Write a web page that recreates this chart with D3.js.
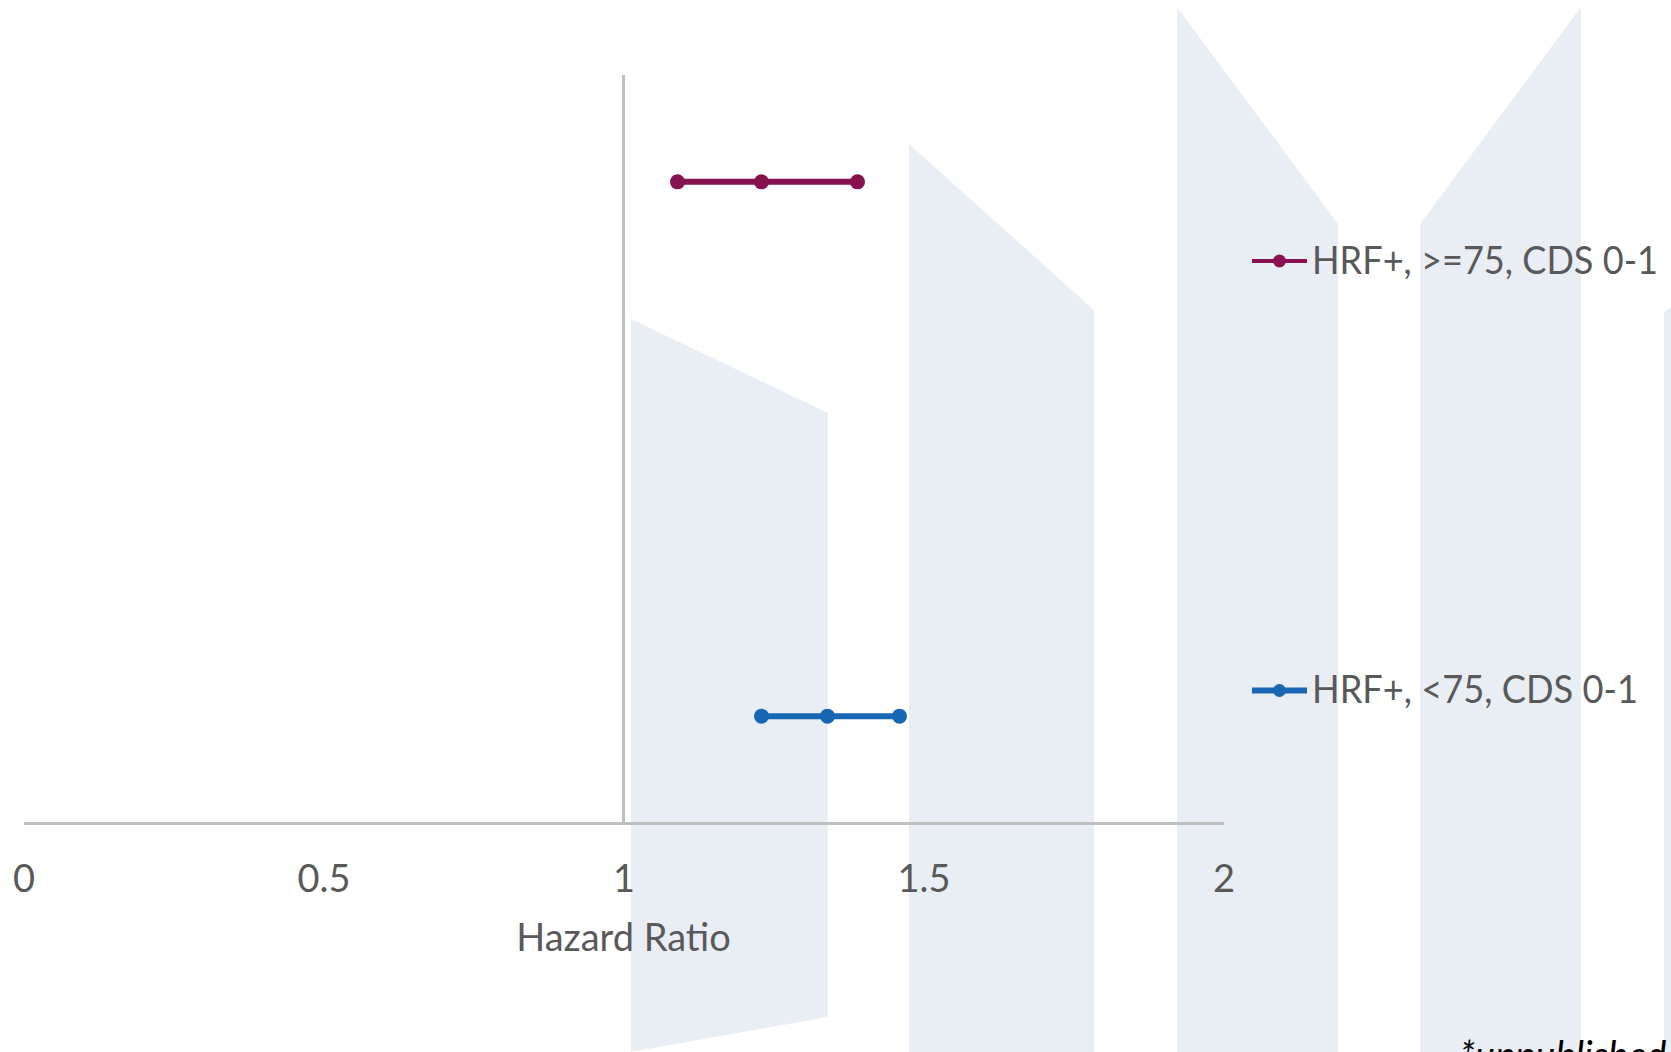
<!DOCTYPE html>
<html>
<head>
<meta charset="utf-8">
<script src="https://cdn.jsdelivr.net/npm/d3@7"></script>
<style>
  html, body { margin: 0; padding: 0; background: #ffffff; }
  svg { display: block; }
</style>
</head>
<body>
<svg id="chart" width="1671" height="1052"></svg>
<script>
// ---- data ----
const seriesNames = ["HRF+, >=75, CDS 0-1", "HRF+, <75, CDS 0-1"];
const hrLower = [1.09, 1.23];
const hrPoint = [1.23, 1.34];
const hrUpper = [1.39, 1.46];
const rowPos = [6, 1];
const refLineX = [1, 1];
const refLineY = [0, 7];
const xTicks = [0, 0.5, 1, 1.5, 2];
const xTickLabels = ["0", "0.5", "1", "1.5", "2"];
const xTitle = "Hazard Ratio";
const footnote = "*unpublished data";

// ---- styles ----
const colors = ["#86134F", "#1767B4"];
const textColor = "#595959";
const axisColor = "#BFBFBF";
const bgShapeColor = "#E9EEF5";
const fontFamily = "Lato, 'Open Sans', sans-serif";

const svg = d3.select("#chart");
const W = 1671, H = 1052;

svg.append("rect").attr("width", W).attr("height", H).attr("fill", "#ffffff");

// decorative slide background shapes (not data)
const bgShapes = [
  [[631,319],[828,413],[828,1017],[631,1052]],
  [[909,144],[1094,310],[1094,1052],[909,1052]],
  [[1177,7],[1338,224],[1338,1052],[1177,1052]],
  [[1420,224],[1581,7],[1581,1052],[1420,1052]],
  [[1664,313],[1690,290],[1690,1052],[1664,1052]]
];
svg.append("g").selectAll("path").data(bgShapes).join("path")
  .attr("d", d => d3.line()(d) + "Z")
  .attr("fill", bgShapeColor);

// scales
const x = d3.scaleLinear().domain([0, 2]).range([23.5, 1223.5]);
const y = d3.scaleLinear().domain([0, 7]).range([823, 75]);

// reference line at HR = 1
svg.append("line")
  .attr("x1", x(refLineX[0])).attr("x2", x(refLineX[1]))
  .attr("y1", y(refLineY[0])).attr("y2", y(refLineY[1]))
  .attr("stroke", axisColor).attr("stroke-width", 3);

// x axis
const xAxis = d3.axisBottom(x)
  .tickValues(xTicks)
  .tickFormat((d, i) => xTickLabels[i])
  .tickSize(0)
  .tickPadding(42);
const gx = svg.append("g").attr("transform", `translate(0,${y(0)})`).call(xAxis);
gx.select(".domain").attr("stroke", axisColor).attr("stroke-width", 3);
gx.selectAll("text")
  .attr("fill", textColor)
  .style("font-family", fontFamily)
  .style("font-size", "38px");

// axis title
svg.append("text")
  .attr("x", x(1)).attr("y", 951)
  .attr("text-anchor", "middle")
  .attr("fill", textColor)
  .style("font-family", fontFamily)
  .style("font-size", "38px")
  .text(xTitle);

// series
const rows = seriesNames.map((name, i) => ({
  name, lo: hrLower[i], pt: hrPoint[i], hi: hrUpper[i], pos: rowPos[i], color: colors[i]
}));

const g = svg.append("g");
rows.forEach(r => {
  g.append("line")
    .attr("x1", x(r.lo)).attr("x2", x(r.hi))
    .attr("y1", y(r.pos)).attr("y2", y(r.pos))
    .attr("stroke", r.color).attr("stroke-width", 6);
  g.selectAll(null).data([r.lo, r.pt, r.hi]).join("circle")
    .attr("cx", d => x(d)).attr("cy", y(r.pos)).attr("r", 7.5)
    .attr("fill", r.color);
});

// legend
const legendY = [261, 690.5];
const legendStroke = [4, 6];
const legendTextWidth = [346, 326];
const lg = svg.append("g");
rows.forEach((r, i) => {
  const gy = legendY[i];
  lg.append("line")
    .attr("x1", 1252).attr("x2", 1307).attr("y1", gy).attr("y2", gy)
    .attr("stroke", r.color).attr("stroke-width", legendStroke[i]);
  lg.append("circle").attr("cx", 1279.5).attr("cy", gy).attr("r", 6.5).attr("fill", r.color);
  lg.append("text")
    .attr("x", 1312).attr("y", gy + 12.5)
    .attr("fill", textColor)
    .attr("textLength", legendTextWidth[i])
    .attr("lengthAdjust", "spacingAndGlyphs")
    .style("font-family", fontFamily)
    .style("font-size", "38px")
    .text(r.name);
});

// footnote (partially cut off at bottom, as in the slide)
svg.append("text")
  .attr("x", 1460).attr("y", 1069)
  .attr("fill", "#000000")
  .style("font-family", fontFamily)
  .style("font-style", "italic")
  .style("font-size", "38px")
  .text(footnote);
</script>
</body>
</html>
